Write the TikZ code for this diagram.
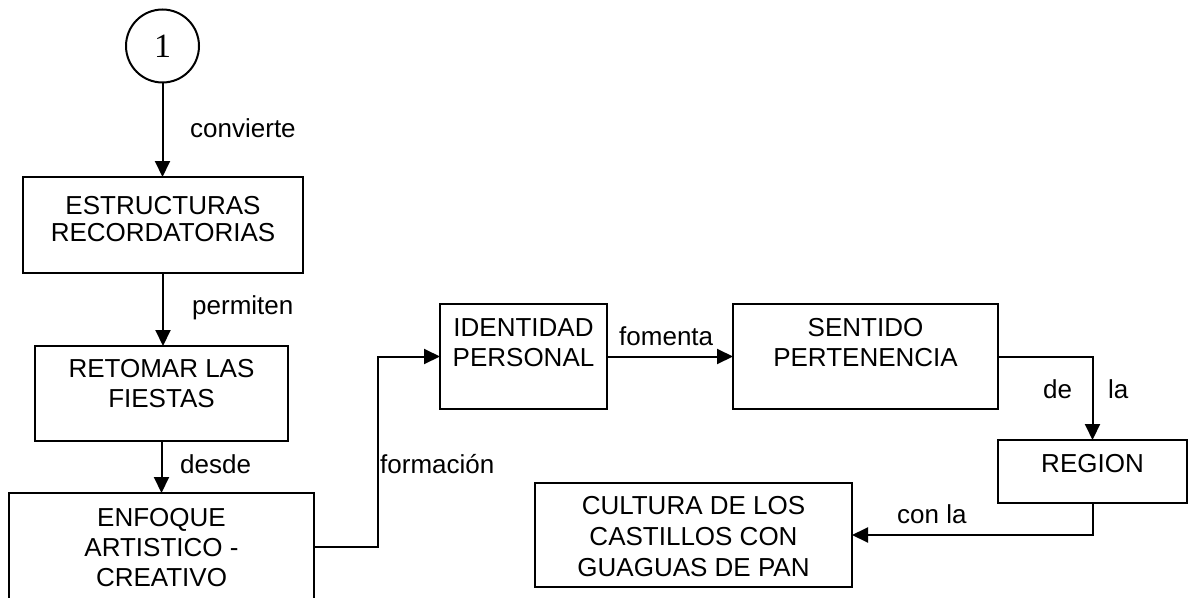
\documentclass[tikz,border=0pt]{standalone}
\usepackage{fontspec}
\setmainfont{Liberation Sans}
\newfontfamily\numfont{Liberation Serif}
\usetikzlibrary{arrows.meta}
\begin{document}
\begin{tikzpicture}[x=1pt,y=-1pt,
  box/.style={draw, line width=2pt, inner sep=0pt, outer sep=0pt, anchor=north west},
  boxtext/.style={font=\fontsize{26}{30}\selectfont, align=center, inner sep=0pt, anchor=north},
  lbl/.style={font=\fontsize{26}{30}\selectfont, inner sep=0pt, anchor=base west},
  arr/.style={line width=2pt, -{Triangle[length=16pt,width=15pt]}}]
\useasboundingbox (0,0) rectangle (1191,597);

% start circle
\node[draw, circle, line width=2pt, minimum size=73pt, inner sep=0pt, outer sep=0pt,
      font=\numfont\fontsize{34}{34}\selectfont] (c) at (162.5,46) {1};

% boxes
\node[box, minimum width=280pt, minimum height=96pt]  (A) at (23,177) {};
\node[box, minimum width=253pt, minimum height=95pt]  (B) at (35,346) {};
\node[box, minimum width=305pt, minimum height=107pt] (C) at (9,493) {};
\node[box, minimum width=167pt, minimum height=105pt] (D) at (440,304) {};
\node[box, minimum width=265pt, minimum height=105pt] (E) at (733,304) {};
\node[box, minimum width=189pt, minimum height=63pt]  (F) at (998,440) {};
\node[box, minimum width=317pt, minimum height=104pt] (G) at (535,483) {};

% box texts
\node[boxtext, font=\fontsize{26}{27}\selectfont] (At) at (163,196) {ESTRUCTURAS\\RECORDATORIAS};
\node[boxtext] (Bt) at (161.5,359) {RETOMAR LAS\\FIESTAS};
\node[boxtext] (Ct) at (161.5,508) {ENFOQUE\\ARTISTICO -\\CREATIVO};
\node[boxtext] (Dt) at (523.5,318) {IDENTIDAD\\PERSONAL};
\node[boxtext] (Et) at (865.5,318) {SENTIDO\\PERTENENCIA};
\node[boxtext] (Ft) at (1092.5,454) {REGION};
\node[boxtext, font=\fontsize{26}{31}\selectfont] (Gt) at (693.5,496) {CULTURA DE LOS\\CASTILLOS CON\\GUAGUAS DE PAN};

% connectors
\draw[arr] (c.south) -- (c.south |- A.north);
\draw[arr] (A.south) -- (A.south |- B.north);
\draw[arr] (B.south) -- (B.south |- C.north);
\draw[arr] (C.east) -- ++(64,0) |- (D.west);
\draw[arr] (D.east) -- (E.west);
\draw[arr] (E.east) -| (F.north);
\draw[arr] (F.south) |- (G.east);

% labels
\node[lbl] (l1) at (190,137) {convierte};
\node[lbl] (l2) at (192,314) {permiten};
\node[lbl] (l3) at (180,473) {desde};
\node[lbl] (l4) at (380,473) {formación};
\node[lbl] (l5) at (619,345) {fomenta};
\node[lbl] (l6) at (1043,398) {de};
\node[lbl] (l7) at (1108,398) {la};
\node[lbl] (l8) at (897,523) {con la};
\end{tikzpicture}
\end{document}
